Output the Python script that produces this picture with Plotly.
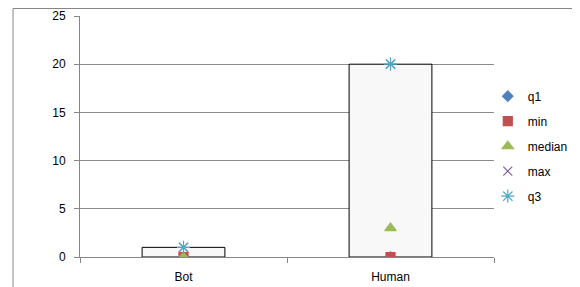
import plotly.graph_objects as go

categories = ["Bot", "Human"]
q1 = [0, 0]
min_vals = [0, 0]
median = [0, 3]
max_vals = [1, 20]
q3 = [1, 20]
y_ticks = [0, 5, 10, 15, 20, 25]

W, H = 572, 279          # page body adds an 8px offset
L, R, T, B = 72, 86, 8, 30
PW, PH = W - L - R, H - T - B

fig = go.Figure()

# up-down box from q1 to q3
fig.add_trace(go.Bar(
    x=categories, base=q1, y=[b - a for a, b in zip(q1, q3)],
    width=0.4, marker=dict(color="#f8f8f8", line=dict(color="#000000", width=1)),
    showlegend=False, hoverinfo="skip"))

series = [
    ("q1", q1, "diamond", "#4F81BD", 8),
    ("min", min_vals, "square", "#C0504D", 9),
    ("median", median, "triangle-up", "#9BBB59", 10),
    ("max", max_vals, "x-thin-open", "#8064A2", 9),
    ("q3", q3, "asterisk-open", "#4BACC6", 11),
]
for name, vals, sym, col, size in series:
    fig.add_trace(go.Scatter(
        x=categories, y=vals, mode="markers", name=name, legendgroup=name,
        marker=dict(symbol=sym, color=col, size=size,
                    line=dict(color=col, width=1.2))))

fig.update_layout(
    width=W, height=H,
    margin=dict(l=L, r=R, t=T, b=B, autoexpand=False),
    paper_bgcolor="white", plot_bgcolor="white",
    font=dict(family="Liberation Sans, Arial, sans-serif", size=12, color="#000"),
    showlegend=True,
    legend=dict(x=0.985, y=0.46, yanchor="middle", xanchor="left",
                font=dict(size=12), tracegroupgap=6, itemwidth=30,
                bgcolor="rgba(0,0,0,0)"),
    xaxis=dict(showline=True, linecolor="#868686", ticks="outside", ticklen=5,
               tickcolor="#868686", tickson="boundaries", showgrid=False,
               tickfont=dict(size=12), ticklabelstandoff=9),
    yaxis=dict(range=[0, 25], tickvals=y_ticks, showline=True, linecolor="#868686",
               ticks="outside", ticklen=5, tickcolor="#868686",
               showgrid=True, gridcolor="#8c8c8c", gridwidth=1,
               zeroline=False, tickfont=dict(size=12), ticklabelstandoff=6),
    bargap=0.6,
)

# chart area border lines (page x=13, y=7)
bx = (13 - 8 - L) / PW
by = (H - B - 0.5) / PH
fig.add_shape(type="line", xref="paper", yref="paper",
              x0=bx, x1=bx, y0=-B / PH, y1=by,
              line=dict(color="#868686", width=1))
fig.add_shape(type="line", xref="paper", yref="paper",
              x0=bx, x1=(W - L) / PW, y0=by, y1=by,
              line=dict(color="#868686", width=1))

fig.write_html("out.html")
